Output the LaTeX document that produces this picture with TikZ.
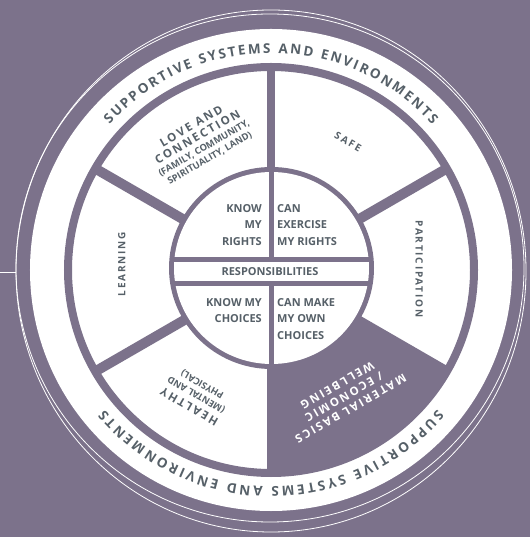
\documentclass[tikz,border=0pt]{standalone}
\usepackage{fontspec}
\setmainfont{Open Sans}
\newfontfamily\spc{Open Sans}[LetterSpace=18]
\usetikzlibrary{decorations.text}
\definecolor{bg}{RGB}{124,114,139}
\definecolor{txt}{RGB}{86,96,104}
\begin{document}
\begin{tikzpicture}[x=1pt,y=1pt,
 divider/.style={draw=bg, line width=10pt},
 vdivider/.style={draw=bg, line width=8pt},
 inl/.style={font=\fontsize{11}{16.5}\selectfont\bfseries, text=txt, inner sep=0pt},
 sl/.style={font=\fontsize{10}{12}\selectfont\spc\bfseries, text=txt, inner sep=0pt, anchor=base},
 slb/.style={font=\fontsize{11.5}{12}\selectfont\spc\bfseries, text=txt, inner sep=0pt, anchor=base},
 sls/.style={font=\fontsize{9.3}{10}\selectfont\bfseries, text=txt, inner sep=0pt, anchor=base},
 thinline/.style={draw=white, line width=0.8pt}
]
\useasboundingbox (-271,-267) rectangle (259,270);
\fill[bg] (-271,-267) rectangle (259,270);
% thin sketch circles
\coordinate (hl) at (-271,-2);
\coordinate (hr) at (-255,-2);
\draw[thinline] (hl) -- (hr);
\draw[thinline] (-1,2) circle[radius=254pt];
\draw[thinline] (0,-1) ellipse[x radius=255pt, y radius=261pt];
% main disc
\fill[white] (0,0) circle[radius=241pt];
\draw[bg, line width=8pt] (0,0) circle[radius=203pt];
% dark sector
\fill[bg] (270:95pt) arc[start angle=270,end angle=330,radius=95pt] -- (330:205pt) arc[start angle=330,end angle=270,radius=205pt] -- cycle;
% dividers
\foreach \a in {30,150,210,330} \draw[divider] (\a:95pt) -- (\a:205pt);
\foreach \a in {90,270} \draw[vdivider] (\a:95pt) -- (\a:205pt);
% inner circle
\fill[bg] (0.5,2) ellipse[x radius=102.5pt, y radius=101pt];
\fill[white] (0.5,2) ellipse[x radius=97.5pt, y radius=96pt];
\fill[bg] (-100,8) rectangle (100,13);
\fill[bg] (-100,-16) rectangle (100,-11);
\fill[bg] (-2.5,13) rectangle (2.5,100);
\fill[bg] (-2.5,-100) rectangle (2.5,-16);
% inner texts
\node[inl, anchor=north east, align=right] (kr) at (-9,66) {KNOW\\MY\\RIGHTS};
\node[inl, anchor=north west, align=left] (cr) at (6,66) {CAN\\EXERCISE\\MY RIGHTS};
\node[inl] (resp) at (-1,-2) {RESPONSIBILITIES};
\node[inl, anchor=north east, align=right] (kc) at (-9,-28) {KNOW MY\\CHOICES};
\node[inl, anchor=north west, align=left] (cc) at (6,-28) {CAN MAKE\\MY OWN\\CHOICES};
% ring text
\path[decorate, decoration={text along path, text align=fit to path, text color=txt,
  text={|\fontsize{13.5}{13.5}\selectfont\bfseries|SUPPORTIVE SYSTEMS AND ENVIRONMENTS}}]
  (138:217pt) arc[start angle=138, end angle=42, radius=217pt];
\path[decorate, decoration={text along path, text align=fit to path, text color=txt,
  text={|\fontsize{13.5}{13.5}\selectfont\bfseries|SUPPORTIVE SYSTEMS AND ENVIRONMENTS}}]
  (-40:217pt) arc[start angle=-40, end angle=-140, radius=217pt];
% sector labels
\begin{scope}[shift={(-70,127)}, rotate=30, transform shape]
 \node[slb] (love1) at (0,15.5) {LOVE AND};
 \node[slb] (love2) at (0,3) {CONNECTION};
 \node[sls] (love3) at (0,-9) {(FAMILY, COMMUNITY,};
 \node[sls] (love4) at (0,-20.5) {SPIRITUALITY, LAND)};
\end{scope}
\begin{scope}[shift={(77,128)}, rotate=-30, transform shape]
 \node[sl] (safe) at (0,-3.5) {SAFE};
\end{scope}
\begin{scope}[shift={(148,1)}, rotate=-90, transform shape]
 \node[sl] (part) at (0,-3.5) {PARTICIPATION};
\end{scope}
\begin{scope}[shift={(-75,-125)}, rotate=150, transform shape]
 \node[slb] (heal1) at (0,9.5) {HEALTHY};
 \node[sls] (heal2) at (0,-3.5) {(MENTAL AND};
 \node[sls] (heal3) at (0,-15.5) {PHYSICAL)};
\end{scope}
\begin{scope}[shift={(-149,6)}, rotate=90, transform shape]
 \node[sl] (learn) at (0,-3.5) {LEARNING};
\end{scope}
\begin{scope}[shift={(73,-127)}, rotate=210, transform shape]
 \node[slb, text=white] (mat1) at (0,9.5) {MATERIAL BASICS};
 \node[slb, text=white] (mat2) at (0,-4) {/ ECONOMIC};
 \node[slb, text=white] (mat3) at (0,-17.5) {WELLBEING};
\end{scope}
\end{tikzpicture}
\end{document}
